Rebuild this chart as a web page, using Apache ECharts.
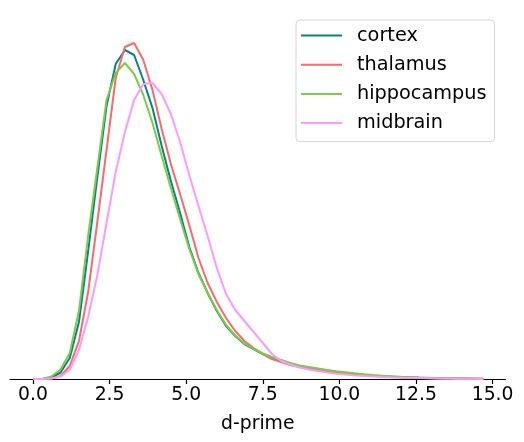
<!DOCTYPE html>
<html>
<head>
<meta charset="utf-8">
<script src="https://cdn.jsdelivr.net/npm/echarts@6/dist/echarts.min.js"></script>
<style>
html,body{margin:0;padding:0;background:#fff;}
#chart{width:524px;height:442px;}
</style>
</head>
<body>
<div id="chart"></div>
<script>
// d-prime sample points (step 0.3 from 0 to 14.7)
const xValues = Array.from({length: 50}, (_, i) => +(i * 0.3).toFixed(1));
const xTicks = [0, 2.5, 5, 7.5, 10, 12.5, 15];
const seriesNames = ['cortex', 'thalamus', 'hippocampus', 'midbrain'];
const seriesColors = ['#088282', '#fb6a6a', '#7acc48', '#fd9afd'];

// estimated density values
const cortex = [0.000,0.000,0.0015,0.0065,0.021,0.057,0.128,0.202,0.273,0.315,0.329,0.324,0.299,0.271,0.233,0.198,0.166,0.132,0.106,0.086,0.068,0.053,0.043,0.035,0.030,0.025,0.021,0.018,0.0155,0.013,0.0115,0.010,0.0085,0.007,0.006,0.005,0.004,0.0032,0.0027,0.0022,0.0018,0.0015,0.0012,0.001,0.0008,0.0006,0.0005,0.0004,0.0003,0.0002];
const thalamus = [0.000,0.000,0.0005,0.003,0.013,0.038,0.087,0.157,0.229,0.301,0.332,0.336,0.319,0.289,0.250,0.215,0.185,0.154,0.121,0.096,0.077,0.061,0.048,0.038,0.031,0.025,0.020,0.017,0.014,0.012,0.0105,0.009,0.008,0.0067,0.0057,0.0047,0.0039,0.0032,0.0026,0.0021,0.0017,0.0014,0.0011,0.0009,0.0007,0.0005,0.0004,0.0003,0.0002,0.0001];
const hippocampus = [0.000,0.000,0.0025,0.0095,0.026,0.068,0.143,0.211,0.279,0.306,0.316,0.305,0.284,0.256,0.223,0.191,0.160,0.130,0.105,0.086,0.069,0.054,0.0435,0.0355,0.030,0.0255,0.022,0.019,0.016,0.0135,0.012,0.0105,0.009,0.0077,0.0067,0.0057,0.0048,0.004,0.0033,0.0028,0.0023,0.0019,0.0016,0.0013,0.001,0.0008,0.0006,0.0005,0.0004,0.0003];
const midbrain = [0.000,0.000,0.0005,0.0025,0.009,0.029,0.062,0.104,0.156,0.207,0.247,0.279,0.295,0.296,0.285,0.265,0.237,0.204,0.173,0.143,0.111,0.085,0.069,0.058,0.047,0.036,0.025,0.018,0.0145,0.0115,0.0095,0.008,0.0065,0.0053,0.0044,0.0036,0.003,0.0025,0.002,0.0016,0.0013,0.0011,0.0009,0.0007,0.0005,0.0004,0.0003,0.0002,0.0002,0.0001];
const seriesData = [cortex, thalamus, hippocampus, midbrain];

const chart = echarts.init(document.getElementById('chart'), null, {renderer: 'canvas'});
const font = 'DejaVu Sans';
chart.setOption({
  animation: false,
  backgroundColor: '#ffffff',
  grid: {left: 10, right: 18.5, top: 15, bottom: 63, containLabel: false},
  xAxis: {
    type: 'value',
    min: -0.75,
    max: 15.42,
    name: 'd-prime',
    nameLocation: 'middle',
    nameGap: 36,
    nameTextStyle: {color: '#000', fontFamily: font, fontSize: 18.8},
    axisLine: {show: true, onZero: false, lineStyle: {color: '#000', width: 1.2}},
    axisTick: {show: true, customValues: xTicks, length: 5, lineStyle: {color: '#000', width: 1.2}},
    axisLabel: {
      customValues: xTicks,
      color: '#000', fontFamily: font, fontSize: 18.8, margin: 7,
      formatter: v => Number(v).toFixed(1)
    },
    splitLine: {show: false}
  },
  yAxis: {
    type: 'value', min: 0, max: 0.364,
    show: false, splitLine: {show: false}
  },
  legend: {
    left: 296, top: 20,
    orient: 'vertical',
    data: seriesNames.map(n => ({name: n, icon: 'rect'})),
    itemWidth: 41, itemHeight: 2,
    itemGap: 10.2,
    padding: [6, 8, 9, 5],
    backgroundColor: '#ffffff',
    borderColor: '#d6d6d6', borderWidth: 1, borderRadius: 4,
    textStyle: {color: '#000', fontFamily: font, fontSize: 19.3, lineHeight: 18.5, padding: [0, 0, 0, 10]}
  },
  series: seriesNames.map((name, k) => ({
    name: name,
    type: 'line',
    data: xValues.map((x, i) => [x, seriesData[k][i]]),
    showSymbol: false,
    symbol: 'none',
    smooth: false,
    color: seriesColors[k],
    lineStyle: {color: seriesColors[k], width: 2},
    z: 2 + k
  }))
});
</script>
</body>
</html>
